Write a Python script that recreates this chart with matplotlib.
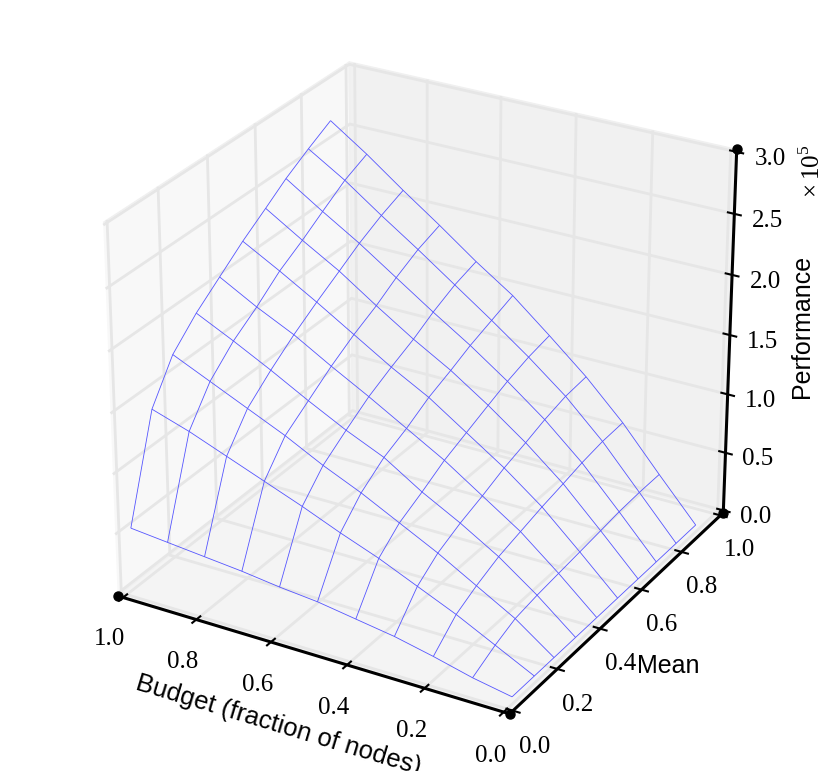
import numpy as np
import matplotlib
matplotlib.use("Agg")
import matplotlib.pyplot as plt
from mpl_toolkits.mplot3d import Axes3D

plt.rcParams["font.family"] = ["Liberation Serif", "DejaVu Serif"]
plt.rcParams["mathtext.fontset"] = "custom"
plt.rcParams["mathtext.rm"] = "Liberation Serif"

# budget runs from 1 down to about 0 along each row
budget = [1.01, 0.91, 0.81, 0.71, 0.61, 0.51, 0.41, 0.31, 0.21, 0.11, 0.01]
mean = [0.04, 0.14, 0.23, 0.33, 0.43, 0.53, 0.63, 0.72, 0.82, 0.92]

# performance in units of 1e5, one row per mean value
perf = [
    [0.47, 0.44, 0.41, 0.38, 0.34, 0.31, 0.26, 0.21, 0.14, 0.06, 0.0],
    [1.31, 1.21, 1.09, 0.97, 0.85, 0.72, 0.60, 0.46, 0.32, 0.16, 0.0],
    [1.63, 1.49, 1.35, 1.21, 1.05, 0.91, 0.75, 0.59, 0.41, 0.23, 0.0],
    [1.83, 1.68, 1.52, 1.35, 1.19, 1.05, 0.85, 0.68, 0.49, 0.26, 0.0],
    [1.99, 1.82, 1.67, 1.49, 1.32, 1.14, 0.96, 0.75, 0.54, 0.28, 0.0],
    [2.15, 1.98, 1.80, 1.61, 1.42, 1.25, 1.04, 0.83, 0.59, 0.30, 0.0],
    [2.29, 2.10, 1.92, 1.71, 1.51, 1.33, 1.12, 0.89, 0.63, 0.32, 0.0],
    [2.42, 2.22, 2.03, 1.82, 1.61, 1.41, 1.19, 0.95, 0.67, 0.34, 0.0],
    [2.54, 2.35, 2.13, 1.92, 1.70, 1.48, 1.25, 1.00, 0.70, 0.35, 0.0],
    [2.65, 2.44, 2.21, 1.99, 1.76, 1.55, 1.29, 1.02, 0.71, 0.35, 0.0],
]

xticks = [0.0, 0.2, 0.4, 0.6, 0.8, 1.0]
yticks = [0.0, 0.2, 0.4, 0.6, 0.8, 1.0]
zticks = [0.0, 0.5, 1.0, 1.5, 2.0, 2.5, 3.0]

fig = plt.figure(figsize=(8.3, 7.71), dpi=100)
ax = fig.add_axes([0.0006, 0.002, 1, 1], projection="3d")
ax.view_init(elev=27, azim=-60)
ax.set_box_aspect((0.98, 1, 0.90), zoom=0.962)

X, Y = np.meshgrid(budget, mean)
ax.plot_wireframe(X, Y, np.array(perf), rstride=1, cstride=1,
                  color="#5555ff", linewidth=0.6)

ax.set_xlim(1.015, -0.015)
ax.set_ylim(-0.015, 1.015)
ax.set_zlim(-0.02, 3.02)
ax.set_xticks(xticks)
ax.set_yticks(yticks)
ax.set_zticks(zticks)
ax.set_xticklabels(["%.1f" % v for v in xticks], fontsize=18)
ax.set_yticklabels(["%.1f" % v for v in yticks], fontsize=18)
ax.set_zticklabels(["%.1f" % v for v in zticks], fontsize=18, va="top")
ax.tick_params(axis="x", pad=8)
ax.tick_params(axis="y", pad=7)
ax.tick_params(axis="z", pad=8)

# old-style panes, grid and heavy black axes
pane_cols = {"x": "#f8f8f8", "y": "#f1f1f1", "z": "#f4f4f4"}
for name, axis in [("x", ax.xaxis), ("y", ax.yaxis), ("z", ax.zaxis)]:
    axis.set_pane_color(pane_cols[name])
    axis.pane.set_edgecolor("#f0f0f0")
    axis.line.set_color("k")
    axis.line.set_linewidth(2.2)
    axis._axinfo["grid"]["color"] = "#e6e6e6"
    axis._axinfo["grid"]["linewidth"] = 2.0
    axis._axinfo["tick"]["inward_factor"] = 0.2
    axis._axinfo["tick"]["outward_factor"] = 0.2
    axis._axinfo["tick"]["linewidth"] = {True: 1.5, False: 1.0}

label_font = ["Liberation Sans", "DejaVu Sans"]
ax.set_xlabel("Budget (fraction of nodes)", fontsize=18.5, family=label_font, labelpad=15)
ax.yaxis.set_rotate_label(False)
ax.set_ylabel("Mean", fontsize=18, family=label_font, labelpad=14, rotation=0)
ax.zaxis.set_rotate_label(False)
ax.set_zlabel("Performance", fontsize=18, family=label_font, labelpad=14, rotation=90)

# dots at the ends of the axis lines
ends_x = [1.015, -0.015, -0.015, -0.015]
ends_y = [-0.015, -0.015, 1.015, 1.015]
ends_z = [-0.02, -0.02, -0.02, 3.02]
ax.plot(ends_x, ends_y, ends_z, "o", color="k", markersize=6.5, clip_on=False, zorder=10)

fig.text(0.978, 0.778, r"$\times\,\mathrm{10}^{5}$", rotation=90, fontsize=18,
         ha="center", va="center")

fig.savefig("out.png", dpi=100)
